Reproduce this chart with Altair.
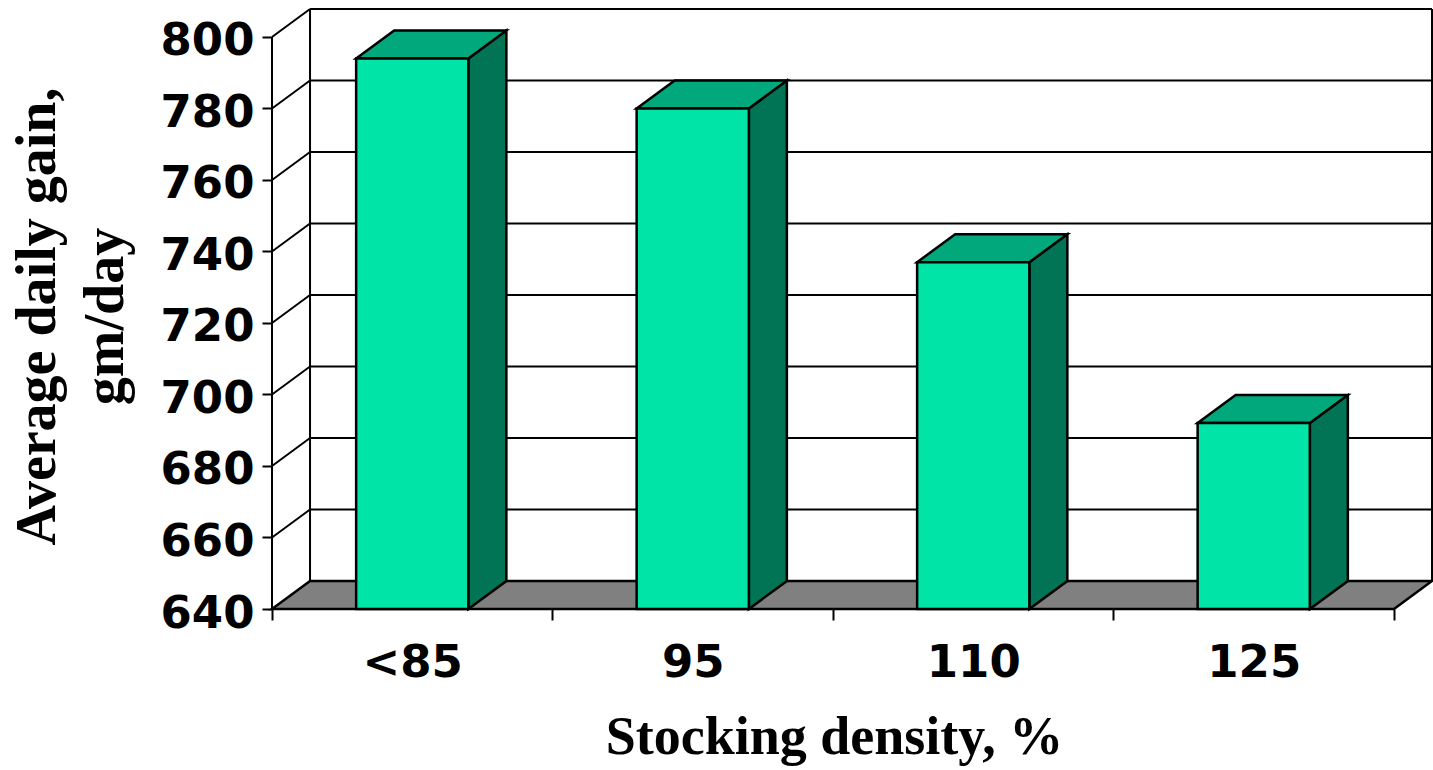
import json

import altair as alt
import pandas as pd

# ---- data -------------------------------------------------------------
categories = ["<85", "95", "110", "125"]
gains = [794, 780, 737, 692]
y_ticks = [640, 660, 680, 700, 720, 740, 760, 780, 800]

# ---- geometry of the pseudo-3D box -------------------------------------
Y_MIN, Y_MAX = 640, 800
N = len(categories)
W, H = 1160, 600
DX = 38 / 280.3      # depth, in category units
DY = 28 / 3.577      # depth, in gain units
HALF = 0.2           # half width of a bar, in category units

X_DOM = [0, N + DX]
Y_DOM = [Y_MIN, Y_MAX + DY]

FRONT, TOP, SIDE, FLOOR = "#00E4A8", "#00A87C", "#007454", "#808080"

# line segments: walls, gridlines and the value axis line
segs = []
for v in y_ticks[1:]:
    segs.append(dict(x=DX, y=v + DY, x2=N + DX, y2=v + DY))   # back wall grid
    segs.append(dict(x=0, y=v, x2=DX, y2=v + DY))             # side wall grid
segs.append(dict(x=DX, y=Y_MIN + DY, x2=DX, y2=Y_MAX + DY))
segs.append(dict(x=N + DX, y=Y_MIN + DY, x2=N + DX, y2=Y_MAX + DY))
segs.append(dict(x=0, y=Y_MIN, x2=0, y2=Y_MAX))
seg_df = pd.DataFrame(segs)

# floor parallelogram
floor_df = pd.DataFrame([
    dict(x=0, y=Y_MIN, y2=Y_MIN),
    dict(x=DX, y=Y_MIN, y2=Y_MIN + DY),
    dict(x=N, y=Y_MIN, y2=Y_MIN + DY),
    dict(x=N + DX, y=Y_MIN + DY, y2=Y_MIN + DY),
])

# bar faces
front_rows, side_rows, top_rows = [], [], []
for i, (cat, v) in enumerate(zip(categories, gains)):
    L, R = i + 0.5 - HALF, i + 0.5 + HALF
    front_rows.append(dict(cat=cat, x=L, x2=R, y=Y_MIN, y2=v))
    side_rows += [
        dict(cat=cat, x=R, y=Y_MIN, y2=v),
        dict(cat=cat, x=R + DX, y=Y_MIN + DY, y2=v + DY),
    ]
    top_rows += [
        dict(cat=cat, x=L, y=v, y2=v),
        dict(cat=cat, x=L + DX, y=v, y2=v + DY),
        dict(cat=cat, x=R, y=v, y2=v + DY),
        dict(cat=cat, x=R + DX, y=v + DY, y2=v + DY),
    ]
front_df = pd.DataFrame(front_rows)
side_df = pd.DataFrame(side_rows)
top_df = pd.DataFrame(top_rows)

xs = alt.Scale(domain=X_DOM, nice=False, zero=False)
ys = alt.Scale(domain=Y_DOM, nice=False, zero=False)

X_TITLE = "Stocking density, %"
Y_TITLE = ["Average daily gain,", "gm/day"]

label_list = json.dumps(categories).replace('"', "'")
x_axis = alt.Axis(
    values=[k / 2 for k in range(2 * N + 1)],
    labelExpr=f"datum.value % 1 != 0 ? {label_list}[floor(datum.value)] : ''",
    tickOpacity={"condition": {"test": "datum.value % 1 != 0", "value": 0}, "value": 1},
    domain=False, grid=False,
    tickSize=11, tickWidth=2, tickColor="black",
    labelFont="DejaVu Sans", labelFontWeight="bold", labelFontSize=45,
    labelColor="black", labelBaseline="top", labelPadding=20,
    labelFlush=False, labelOverlap=False, labelBound=False,
    titleFont="Liberation Serif", titleFontWeight="bold", titleFontSize=54,
    titleColor="black", titleX=562, titleY=144,
    titleAlign="center", titleBaseline="alphabetic",
)
y_axis = alt.Axis(
    values=y_ticks,
    domain=False, grid=False,
    tickSize=10, tickWidth=2, tickColor="black",
    labelFont="DejaVu Sans", labelFontWeight="bold", labelFontSize=45,
    labelColor="black", labelPadding=8, labelOffset=4,
    labelFlush=False, labelOverlap=False, labelBound=False,
    titleFont="Liberation Serif", titleFontWeight="bold", titleFontSize=56,
    titleColor="black", titleLineHeight=68, titleAngle=-90,
    titleX=-218, titleY=307, titleAlign="center", titleBaseline="alphabetic",
)


def xenc():
    return alt.X("x:Q", scale=xs, axis=x_axis, title=X_TITLE)


def yenc(stack=False):
    if stack:
        return alt.Y("y:Q", scale=ys, axis=y_axis, stack=None, title=Y_TITLE)
    return alt.Y("y:Q", scale=ys, axis=y_axis, title=Y_TITLE)


lines = alt.Chart(seg_df).mark_rule(color="black", strokeWidth=2).encode(
    x=xenc(), y=yenc(), x2="x2:Q", y2="y2:Q",
)

floor = alt.Chart(floor_df).mark_area(
    fill=FLOOR, stroke="black", strokeWidth=2.5, opacity=1
).encode(x=xenc(), y=yenc(True), y2="y2:Q")

sides = alt.Chart(side_df).mark_area(
    fill=SIDE, stroke="black", strokeWidth=2.5, opacity=1
).encode(x=xenc(), y=yenc(True), y2="y2:Q", detail="cat:N")

tops = alt.Chart(top_df).mark_area(
    fill=TOP, stroke="black", strokeWidth=2.5, opacity=1
).encode(x=xenc(), y=yenc(True), y2="y2:Q", detail="cat:N")

fronts = alt.Chart(front_df).mark_rect(
    fill=FRONT, stroke="black", strokeWidth=2.5
).encode(x=xenc(), x2="x2:Q", y=yenc(), y2="y2:Q")

chart = (
    alt.layer(lines, floor, sides, tops, fronts)
    .properties(
        width=W, height=H,
        autosize=alt.AutoSizeParams(type="none"),
        padding={"left": 272, "top": 9, "right": 1, "bottom": 161},
        background="white",
    )
    .configure_view(stroke=None)
)

chart.save("out.html", embed_options={"renderer": "svg", "actions": False})
